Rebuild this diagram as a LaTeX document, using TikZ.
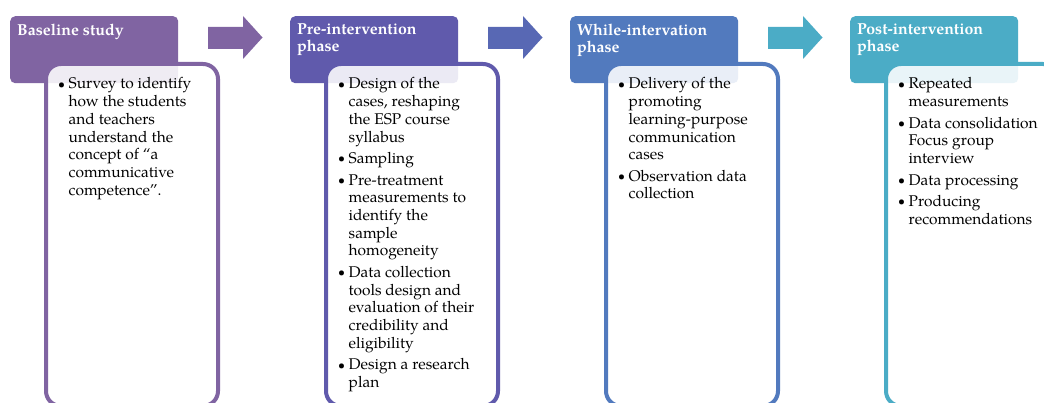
\documentclass[tikz,border=0pt]{standalone}
\usepackage{fontspec}
\usepackage{graphicx}
\setmainfont{TeX Gyre Pagella}
\definecolor{cA}{HTML}{8064A2}
\definecolor{cB}{HTML}{605AAC}
\definecolor{cC}{HTML}{527ABE}
\definecolor{cD}{HTML}{4BACC6}
\definecolor{aA}{HTML}{8064A2}
\definecolor{aB}{HTML}{5868B4}
\definecolor{aC}{HTML}{4BACC6}
\newcommand{\bul}{\makebox[10.5pt][l]{\raisebox{0.6pt}{\scalebox{0.8}{\textbullet}}}}
\newcommand{\ind}{\hspace*{10.5pt}}
\begin{document}
\begin{tikzpicture}[x=1pt,y=-1pt,
  hdr/.style={draw=none, fill=#1, rounded corners=5pt, minimum width=168pt, minimum height=67pt, anchor=north west, inner sep=0pt},
  bdy/.style={draw=#1, line width=4pt, fill=white, fill opacity=0.88, rounded corners=15pt, minimum width=172pt, minimum height=342pt, anchor=north west, inner sep=0pt},
  htxt/.style={anchor=north west, inner sep=0pt, align=left, text=white, font=\fontsize{15.9}{17}\selectfont\bfseries},
  btxt/.style={anchor=north west, inner sep=0pt, align=left, font=\fontsize{15.5}{17.7}\selectfont},
  blk/.style={fill=#1, draw=none}
]
\useasboundingbox (0,0) rectangle (1044,403);
\fill[white] (0,0) rectangle (1044,403);

% Box 1
\node[hdr=cA] (h1) at (10,16) {};
\node[bdy=cA] (b1) at (44,62) {};
\node[htxt] (ht1) at (17,23.5) {Baseline study};
\node[btxt] (bt1) at (58,77.5) {\bul Survey to identify\\ \ind how the students\\ \ind and teachers\\ \ind understand the\\ \ind concept of “a\\ \ind communicative\\ \ind competence”.};

% Box 2
\node[hdr=cB] (h2) at (290,16) {};
\node[bdy=cB] (b2) at (324,62) {};
\node[htxt] (ht2) at (297,23.5) {Pre-intervention\\phase};
\node[btxt] (bt2) at (338,77.5) {\bul Design of the\\ \ind cases, reshaping\\ \ind the ESP course\\ \ind syllabus\\[3.8pt]
\bul Sampling\\[3.8pt]
\bul Pre-treatment\\ \ind measurements to\\ \ind identify the\\ \ind sample\\ \ind homogeneity\\[3.8pt]
\bul Data collection\\ \ind tools design and\\ \ind evaluation of their\\ \ind credibility and\\ \ind eligibility\\[3.8pt]
\bul Design a research\\ \ind plan};

% Box 3
\node[hdr=cC] (h3) at (570,16) {};
\node[bdy=cC] (b3) at (604,62) {};
\node[htxt] (ht3) at (577,23.5) {While-intervation\\phase};
\node[btxt] (bt3) at (618,77.5) {\bul Delivery of the\\ \ind promoting\\ \ind learning-purpose\\ \ind communication\\ \ind cases\\[3.8pt]
\bul Observation data\\ \ind collection};

% Box 4
\node[hdr=cD] (h4) at (850,16) {};
\node[bdy=cD] (b4) at (884,62) {};
\node[htxt] (ht4) at (857,23.5) {Post-intervention\\phase};
\node[btxt] (bt4) at (898,77.5) {\bul Repeated\\ \ind measurements\\[3.8pt]
\bul Data consolidation\\ \ind Focus group\\ \ind interview\\[3.8pt]
\bul Data processing\\[3.8pt]
\bul Producing\\ \ind recommendations};

% Block arrows
\foreach \dx/\col in {0/aA,280/aB,560/aC}{
  \fill[blk=\col] (208+\dx,27) -- (243+\dx,27) -- (243+\dx,16) -- (262.5+\dx,37.5) -- (243+\dx,59) -- (243+\dx,49) -- (208+\dx,49) -- cycle;
}
\end{tikzpicture}
\end{document}
